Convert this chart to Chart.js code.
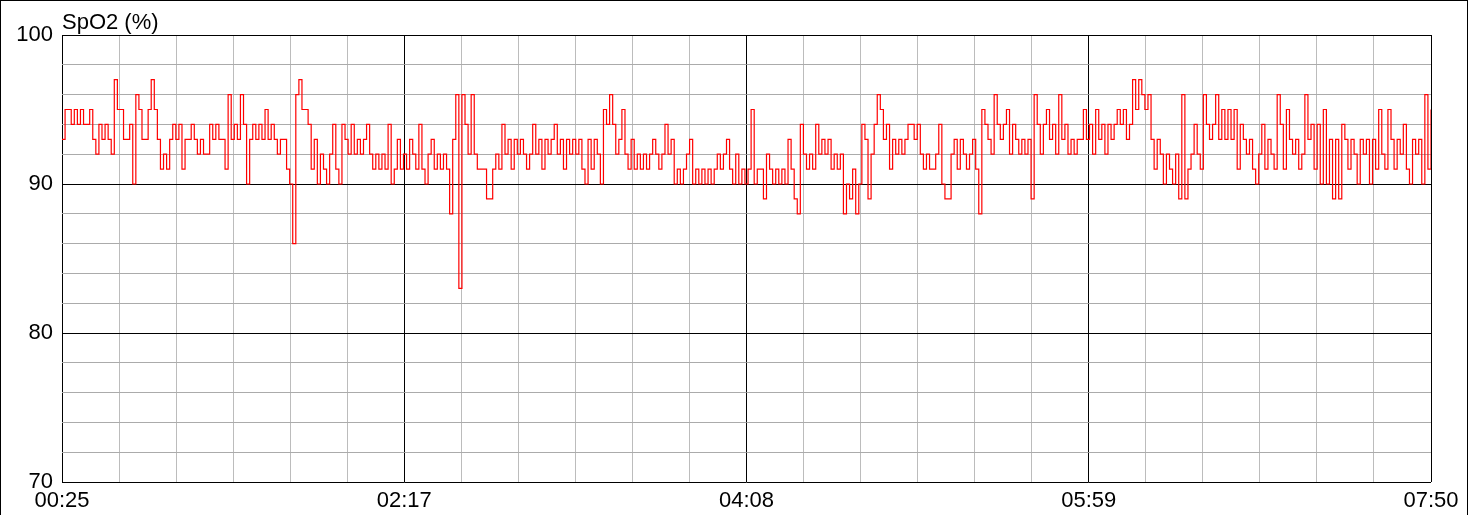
<!DOCTYPE html>
<html><head><meta charset="utf-8">
<script src="https://cdn.jsdelivr.net/npm/chart.js@4/dist/chart.umd.min.js"></script>
<style>
html,body{margin:0;padding:0;background:#fff;overflow:hidden}
#frame{position:absolute;left:0;top:0;width:1466px;height:600px;border:1px solid #000;box-sizing:content-box}
#c{position:absolute;left:0;top:0}
</style></head><body>
<div id="frame"></div>
<canvas id="c" width="1476" height="515"></canvas>
<script>
// ---- data ----
const chartTitle = 'SpO2 (%)';
const xTickLabels = ['00:25', '02:17', '04:08', '05:59', '07:50'];
const yTickValues = [70, 80, 90, 100];
const totalMinutes = 445;

// SpO2 samples, one per minute
const spo2Seg1 = [93,95,95,94,95,94,95,94,94,95, 93,92,94,93,94,93,92,97,95,95, 93,93,94,90,96,95,93,93,95,97, 95,93,91,92,91,93,94,93,94,91, 93,93,94,93,92,93,92,92,94,93, 94,93,93,91,96];
const spo2Seg2 = [93,94,93,96,94,90,93,94,93,94, 93,95,93,94,93,92,93,93,91,90, 86,96,97,95,95,94,91,93,90,92, 91,90,92,94,91,90,94,93,92,94, 92,93,92,93,94,92,91,92,91,92, 91,94,90,91,93,91,92];
const spo2Seg3 = [91,93,92,91,94,91,90,92, 93,91,92,91,92,91,88,93,96,83, 96,94,92,96,92,91,91,91,89,89, 91,92,91,94,92,93,91,93,92,93, 92,91,92,94,92,93,91,93,92,93, 94,92,93,91,93,92,93,92,93];
const spo2Seg4 = [91,90,93,91,93,92,90,95,94,96,94, 92,93,95,92,91,93,91,92,91,92, 91,92,93,92,91,92,94,92,93,90, 91,90,91,92,93,90,91,90,91,90, 91,90,91,92,91,92,93,91,90,92, 90,91,90,91,95,90];
const spo2Seg5 = [91,91,89,92, 91,90,91,90,91,90,93,91,89,88, 94,92,91,92,91,94,92,93,92,93, 91,92,91,92,88,90,89,91,88,90, 94,93,89,92,94,96,95,93,94,91, 93,92,93,92,93,94,94,93,94,92, 91,92,91];
const spo2Seg6 = [91,92,94,90,89,89,92, 93,91,93,92,91,92,93,91,88,95, 94,93,92,96,94,93,94,95,92,94, 93,92,93,92,93,89,96,94,92,94, 95,93,94,92,96,93,94,92,93,92, 93,93,95,93,94,92,95,93,94,92, 94];
const spo2Seg7 = [93,94,95,94,95,93,94,97,95, 97,96,95,96,93,91,93,92,90,92, 91,90,92,89,96,89,91,92,94,92, 91,96,94,93,94,96,93,95,93,95, 93,95,91,94,93,92,93,91,90,92, 94,91,93,92,91,96,94,91];
const spo2Seg8 = [95,93, 92,93,91,92,96,93,94,91,94,90, 95,90,93,89,93,89,94,93,91,93, 92,90,93,92,93,90,93,91,95,92, 91,95,93,91,93,92,94,91,90,93, 92,93,90,96,91,95];

const spo2 = [].concat(spo2Seg1, spo2Seg2, spo2Seg3, spo2Seg4, spo2Seg5, spo2Seg6, spo2Seg7, spo2Seg8);
const points = spo2.map((v, i) => ({ x: i * totalMinutes / (spo2.length - 1), y: v }));

// ---- styling ----
const FONT = '"Liberation Sans", Arial, Helvetica, sans-serif';
const FONT_SIZE = 22;
const MAJOR = '#000000';
const MINOR_V = '#bcbcbc';
const MINOR_H = '#ababab';
const minorPerMajor = 6;
const xDivisions = (xTickLabels.length - 1) * minorPerMajor;

const titlePlugin = {
  id: 'spo2Title',
  afterDraw(chart) {
    const ctx = chart.ctx;
    ctx.save();
    ctx.font = FONT_SIZE + 'px ' + FONT;
    ctx.fillStyle = '#000';
    ctx.textBaseline = 'alphabetic';
    ctx.textAlign = 'left';
    ctx.fillText(chartTitle, chart.chartArea.left, chart.chartArea.top - 6);
    ctx.restore();
  }
};

new Chart(document.getElementById('c'), {
  type: 'line',
  data: {
    datasets: [{
      data: points,
      borderColor: '#ff0000',
      borderWidth: 1.2,
      pointRadius: 0,
      stepped: true,
      fill: false,
      tension: 0
    }]
  },
  options: {
    responsive: false,
    animation: false,
    events: [],
    layout: { padding: { top: 35, right: 45, left: 0, bottom: 0 } },
    plugins: { legend: { display: false }, tooltip: { enabled: false }, title: { display: false } },
    scales: {
      x: {
        type: 'linear',
        min: 0,
        max: totalMinutes,
        afterBuildTicks(axis) {
          const t = [];
          for (let i = 0; i <= xDivisions; i++) t.push({ value: i * totalMinutes / xDivisions });
          axis.ticks = t;
        },
        afterFit(scale) { scale.height = 33; },
        ticks: {
          autoSkip: false,
          maxRotation: 0,
          minRotation: 0,
          padding: 6,
          color: '#000',
          font: { family: FONT, size: FONT_SIZE },
          callback(value, index) {
            return index % minorPerMajor === 0 ? xTickLabels[index / minorPerMajor] : '';
          }
        },
        grid: {
          drawTicks: false,
          color(ctx) { return ctx.index % minorPerMajor === 0 ? MAJOR : MINOR_V; },
          lineWidth: 1
        },
        border: { display: false }
      },
      y: {
        min: 70,
        max: 100,
        afterFit(scale) { scale.width = 62; },
        ticks: {
          stepSize: 2,
          padding: 9,
          color: '#000',
          font: { family: FONT, size: FONT_SIZE },
          callback(value) { return yTickValues.includes(value) ? String(value) : ''; }
        },
        grid: {
          drawTicks: false,
          color(ctx) { return ctx.tick && ctx.tick.value % 10 === 0 ? MAJOR : MINOR_H; },
          lineWidth: 1
        },
        border: { display: false }
      }
    }
  },
  plugins: [titlePlugin]
});
</script>
</body></html>
